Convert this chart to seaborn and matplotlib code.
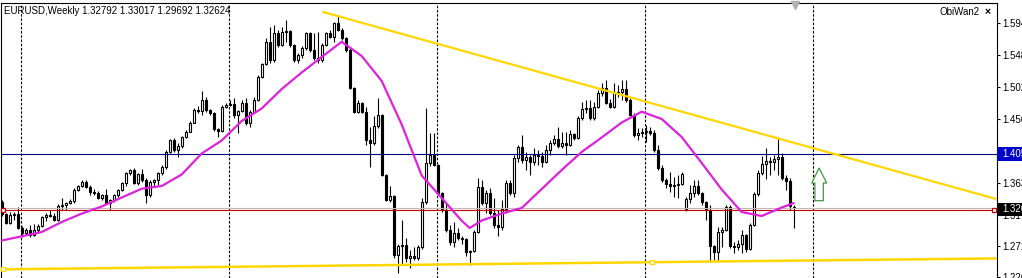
import numpy as np
import pandas as pd
import matplotlib
matplotlib.use("Agg")
import matplotlib.pyplot as plt
import seaborn as sns
from matplotlib.patches import Polygon, Rectangle

sns.set_style("white")
plt.rcParams["font.family"] = ["Liberation Sans", "DejaVu Sans"]

# ---------------- data (EURUSD weekly) ----------------
opens = [
    1.3351, 1.3177, 1.3046, 1.3162, 1.3177, 1.2974, 1.2902, 1.2945, 1.2873, 1.2945,
    1.3003, 1.3133, 1.3162, 1.3148, 1.3090, 1.3293, 1.3307, 1.3336, 1.3365, 1.3525,
    1.3583, 1.3641, 1.3568, 1.3496, 1.3481, 1.3409, 1.3452, 1.3336, 1.3380, 1.3452,
    1.3525, 1.3626, 1.3771, 1.3815, 1.3626, 1.3757, 1.3670, 1.3452, 1.3641, 1.3670,
    1.3771, 1.3858, 1.4076, 1.4249, 1.4105, 1.4163, 1.4293, 1.4365, 1.4496, 1.4684,
    1.4670, 1.4829, 1.4684, 1.4641, 1.4409, 1.4380, 1.4727, 1.4756, 1.4771, 1.4612,
    1.4670, 1.4785, 1.4496, 1.4655, 1.4829, 1.5162, 1.5351, 1.5669, 1.5409, 1.5800,
    1.5626, 1.5814, 1.5829, 1.5626, 1.5409, 1.5481, 1.5583, 1.5800, 1.5554, 1.5438,
    1.5409, 1.5626, 1.5800, 1.5742, 1.5945, 1.5843, 1.5727, 1.5554, 1.5003, 1.4655,
    1.4785, 1.4655, 1.4249, 1.4206, 1.4452, 1.4612, 1.3742, 1.3380, 1.3438, 1.2583,
    1.2713, 1.2728, 1.2540, 1.2569, 1.2540, 1.2699, 1.3351, 1.3917, 1.4032, 1.3887,
    1.3481, 1.3235, 1.2945, 1.2771, 1.2902, 1.2829, 1.2815, 1.2627, 1.2641, 1.2916,
    1.3568, 1.3336, 1.3481, 1.3191, 1.3017, 1.2988, 1.3249, 1.3626, 1.3481, 1.3989,
    1.4148, 1.3960, 1.4003, 1.3931, 1.4032, 1.4018, 1.3931, 1.4105, 1.4206, 1.4264,
    1.4163, 1.4206, 1.4177, 1.4336, 1.4278, 1.4568, 1.4698, 1.4713, 1.4568, 1.4727,
    1.4930, 1.5003, 1.4785, 1.4727, 1.4930, 1.4945, 1.4988, 1.4829, 1.4612, 1.4322,
    1.4351, 1.4365, 1.4380, 1.4351, 1.4105, 1.3844, 1.3670, 1.3612, 1.3583, 1.3598,
    1.3612, 1.3249, 1.3395, 1.3481, 1.3583, 1.3481, 1.3351, 1.3235, 1.2713, 1.2627,
    1.2916, 1.2945, 1.3278, 1.2713, 1.2699, 1.2742, 1.2873, 1.2670, 1.3017, 1.3467,
    1.3771, 1.3902, 1.3945, 1.3931, 1.3974, 1.4003, 1.3699, 1.3655, 1.32792,
]
highs = [
    1.3380, 1.3191, 1.3206, 1.3206, 1.3278, 1.3003, 1.2974, 1.3017, 1.3032, 1.3032,
    1.3148, 1.3191, 1.3235, 1.3191, 1.3322, 1.3409, 1.3351, 1.3395, 1.3554, 1.3598,
    1.3670, 1.3670, 1.3598, 1.3539, 1.3510, 1.3467, 1.3539, 1.3395, 1.3467, 1.3539,
    1.3641, 1.3786, 1.3829, 1.3844, 1.3771, 1.3829, 1.3699, 1.3670, 1.3684, 1.3786,
    1.3887, 1.4105, 1.4264, 1.4278, 1.4206, 1.4307, 1.4394, 1.4525, 1.4713, 1.4742,
    1.4959, 1.4872, 1.4698, 1.4655, 1.4423, 1.4756, 1.4785, 1.4829, 1.4858, 1.4684,
    1.4829, 1.4858, 1.4684, 1.4872, 1.5191, 1.5365, 1.5727, 1.5887, 1.5916, 1.5843,
    1.5887, 1.5988, 1.5843, 1.5640, 1.5510, 1.5612, 1.5814, 1.5814, 1.5800, 1.5814,
    1.5655, 1.5814, 1.5843, 1.5959, 1.6061, 1.5872, 1.5742, 1.5583, 1.5017, 1.4829,
    1.4800, 1.4727, 1.4438, 1.4597, 1.4858, 1.4626, 1.3757, 1.3583, 1.3453, 1.2742,
    1.3090, 1.2829, 1.2656, 1.2699, 1.2728, 1.3409, 1.4713, 1.4351, 1.4351, 1.3902,
    1.3496, 1.3336, 1.3017, 1.3061, 1.2974, 1.2858, 1.2829, 1.2656, 1.2945, 1.3699,
    1.3670, 1.3525, 1.3554, 1.3409, 1.3235, 1.3380, 1.3670, 1.3670, 1.4032, 1.4177,
    1.4322, 1.4076, 1.4032, 1.4134, 1.4105, 1.4076, 1.4177, 1.4249, 1.4322, 1.4438,
    1.4365, 1.4365, 1.4394, 1.4351, 1.4597, 1.4800, 1.4829, 1.4829, 1.4800, 1.4974,
    1.5075, 1.5119, 1.4843, 1.5075, 1.5046, 1.5119, 1.5119, 1.4858, 1.4641, 1.4423,
    1.4423, 1.4467, 1.4438, 1.4394, 1.4177, 1.3887, 1.3699, 1.3786, 1.3713, 1.3742,
    1.3786, 1.3424, 1.3598, 1.3670, 1.3670, 1.3496, 1.3365, 1.3307, 1.2728, 1.2988,
    1.2988, 1.3307, 1.3307, 1.2771, 1.2800, 1.2945, 1.2887, 1.3046, 1.3496, 1.3815,
    1.4018, 1.4134, 1.4003, 1.4032, 1.4278, 1.4061, 1.3742, 1.3699, 1.33017,
]
lows = [
    1.3148, 1.3032, 1.3032, 1.3090, 1.2959, 1.2844, 1.2873, 1.2844, 1.2858, 1.2902,
    1.2988, 1.3075, 1.3133, 1.3075, 1.3075, 1.3235, 1.3235, 1.3322, 1.3336, 1.3510,
    1.3568, 1.3554, 1.3453, 1.3453, 1.3395, 1.3380, 1.3322, 1.3235, 1.3351, 1.3424,
    1.3510, 1.3583, 1.3742, 1.3612, 1.3598, 1.3641, 1.3336, 1.3424, 1.3568, 1.3598,
    1.3742, 1.3829, 1.4061, 1.4076, 1.4003, 1.4134, 1.4278, 1.4365, 1.4496, 1.4641,
    1.4612, 1.4655, 1.4612, 1.4380, 1.4293, 1.4365, 1.4713, 1.4742, 1.4568, 1.4351,
    1.4655, 1.4467, 1.4438, 1.4641, 1.4814, 1.5148, 1.5337, 1.5366, 1.5380, 1.5597,
    1.5612, 1.5669, 1.5597, 1.5380, 1.5366, 1.5438, 1.5554, 1.5525, 1.5409, 1.5366,
    1.5380, 1.5612, 1.5727, 1.5669, 1.5829, 1.5698, 1.5525, 1.4989, 1.4641, 1.4641,
    1.4641, 1.4177, 1.3858, 1.4177, 1.4423, 1.3728, 1.3365, 1.3351, 1.2540, 1.2323,
    1.2453, 1.2482, 1.2395, 1.2511, 1.2511, 1.2670, 1.3322, 1.3873, 1.3873, 1.3453,
    1.3206, 1.2916, 1.2728, 1.2699, 1.2800, 1.2742, 1.2569, 1.2438, 1.2627, 1.2902,
    1.3307, 1.3191, 1.3162, 1.2974, 1.2858, 1.2945, 1.3191, 1.3453, 1.3424, 1.3931,
    1.3917, 1.3815, 1.3742, 1.3887, 1.3887, 1.3858, 1.3917, 1.4032, 1.4177, 1.4134,
    1.4134, 1.4032, 1.4163, 1.4249, 1.4264, 1.4539, 1.4641, 1.4539, 1.4539, 1.4713,
    1.4887, 1.4771, 1.4713, 1.4713, 1.4872, 1.4829, 1.4800, 1.4597, 1.4293, 1.4249,
    1.4293, 1.4220, 1.4322, 1.4076, 1.3815, 1.3641, 1.3554, 1.3496, 1.3424, 1.3409,
    1.3598, 1.3220, 1.3336, 1.3424, 1.3453, 1.3307, 1.3090, 1.2482, 1.2511, 1.2496,
    1.2699, 1.2930, 1.2684, 1.2612, 1.2656, 1.2612, 1.2627, 1.2656, 1.3003, 1.3438,
    1.3742, 1.3684, 1.3742, 1.3815, 1.3742, 1.3670, 1.3525, 1.3235, 1.29692,
]
closes = [
    1.3177, 1.3046, 1.3162, 1.3177, 1.2974, 1.2902, 1.2945, 1.2873, 1.2945, 1.3003,
    1.3133, 1.3162, 1.3148, 1.3090, 1.3293, 1.3307, 1.3336, 1.3365, 1.3525, 1.3583,
    1.3641, 1.3568, 1.3496, 1.3481, 1.3409, 1.3452, 1.3336, 1.3380, 1.3452, 1.3525,
    1.3626, 1.3771, 1.3815, 1.3626, 1.3757, 1.3670, 1.3452, 1.3641, 1.3670, 1.3771,
    1.3858, 1.4076, 1.4249, 1.4105, 1.4163, 1.4293, 1.4365, 1.4496, 1.4684, 1.4670,
    1.4829, 1.4684, 1.4641, 1.4409, 1.4380, 1.4727, 1.4756, 1.4771, 1.4612, 1.4670,
    1.4785, 1.4496, 1.4655, 1.4829, 1.5162, 1.5351, 1.5669, 1.5409, 1.5800, 1.5626,
    1.5814, 1.5829, 1.5626, 1.5409, 1.5481, 1.5583, 1.5800, 1.5554, 1.5438, 1.5409,
    1.5626, 1.5800, 1.5742, 1.5945, 1.5843, 1.5727, 1.5554, 1.5003, 1.4655, 1.4785,
    1.4655, 1.4249, 1.4206, 1.4452, 1.4612, 1.3742, 1.3380, 1.3438, 1.2583, 1.2713,
    1.2728, 1.2540, 1.2569, 1.2540, 1.2699, 1.3351, 1.3917, 1.4032, 1.3887, 1.3481,
    1.3235, 1.2945, 1.2771, 1.2902, 1.2829, 1.2815, 1.2627, 1.2641, 1.2916, 1.3568,
    1.3336, 1.3481, 1.3191, 1.3017, 1.2988, 1.3249, 1.3626, 1.3481, 1.3989, 1.4148,
    1.3960, 1.4003, 1.3931, 1.4032, 1.4018, 1.3931, 1.4105, 1.4206, 1.4264, 1.4163,
    1.4206, 1.4177, 1.4336, 1.4278, 1.4568, 1.4698, 1.4713, 1.4568, 1.4727, 1.4930,
    1.5003, 1.4785, 1.4727, 1.4930, 1.4945, 1.4988, 1.4829, 1.4612, 1.4322, 1.4351,
    1.4365, 1.4380, 1.4351, 1.4105, 1.3844, 1.3670, 1.3612, 1.3583, 1.3598, 1.3612,
    1.3757, 1.3395, 1.3481, 1.3583, 1.3481, 1.3351, 1.3235, 1.2713, 1.2627, 1.2916,
    1.2945, 1.3278, 1.2713, 1.2699, 1.2742, 1.2873, 1.2670, 1.3017, 1.3467, 1.3771,
    1.3902, 1.3945, 1.3931, 1.3974, 1.4003, 1.3699, 1.3655, 1.3293, 1.32624,
]

# magenta moving average
ma_bars = [0, 5, 10, 15, 20, 25, 30, 35, 40, 45, 50, 55, 60, 65, 70, 75, 80, 85, 90, 95,
           100, 105, 110, 115, 117, 120, 125, 130, 135, 140, 145, 150, 155, 160, 165, 170,
           175, 180, 185, 190, 195, 198]
ma_values = [1.2793, 1.2854, 1.2916, 1.3061, 1.3183, 1.3286, 1.3416, 1.3544, 1.3583, 1.3750,
             1.4054, 1.4242, 1.4525, 1.4706, 1.4988, 1.5228, 1.5452, 1.5673, 1.5467, 1.5105,
             1.4474, 1.3735, 1.3409, 1.3080, 1.2974, 1.3083, 1.3184, 1.3264, 1.3539, 1.3815,
             1.4076, 1.4286, 1.4503, 1.4660, 1.4554, 1.4293, 1.3917, 1.3532, 1.3206, 1.3148,
             1.3271, 1.3336]

# drawn objects
resistance_bars = [80.1, 248.7]
resistance_prices = [1.6108, 1.3394]
support_anchor_bars = [0.33, 162.6]
support_anchor_prices = [1.2376, 1.2479]
blue_level = 1.4040
red_level = 1.3230
bid_price = 1.32624
separator_bars = [4.9, 56.9, 108.9, 160.9, 202.9]

tick_prices = [1.594, 1.548, 1.502, 1.456, 1.409, 1.363, 1.317, 1.271, 1.226]
tick_labels = ["1.594", "1.548", "1.502", "1.456", "1.409", "1.363", "1.317", "1.271", "1.226"]
title_text = "EURUSD,Weekly 1.32792 1.33017 1.29692 1.32624"

# ---------------- figure ----------------
W, H = 1022, 278
fig = plt.figure(figsize=(W / 100, H / 100), dpi=100, facecolor="white")
ax = fig.add_axes([0.5 / W, 0.0, 996.0 / W, 1 - 2.5 / H])
ax.set_facecolor("white")

df = pd.DataFrame({"o": opens, "h": highs, "l": lows, "c": closes})
df["bar"] = np.arange(len(df))
bull = df["c"] >= df["o"]

ax.vlines(df["bar"], df["l"], df["h"], color="black", lw=0.8, zorder=3)
ax.bar(df["bar"], (df["c"] - df["o"]).abs(), bottom=np.minimum(df["o"], df["c"]),
       width=0.5, color=np.where(bull, "white", "black"), edgecolor="black",
       linewidth=0.8, zorder=4)

# period separators
for b in separator_bars:
    ax.axvline(b, color="black", lw=0.8, ls=(0, (2.3, 1.5)), zorder=2)

# horizontal lines
ax.axhline(bid_price, color="#C8B4B4", lw=0.8, zorder=5)
ax.axhline(red_level, color="#C00000", lw=0.8, zorder=6)
ax.axhline(blue_level, color="#000080", lw=0.8, zorder=6)

# moving average
sns.lineplot(x=ma_bars, y=ma_values, ax=ax, color="#DD22DD", lw=1.6, zorder=7)

# trend lines
ax.plot(resistance_bars, resistance_prices, color="#FFD700", lw=1.6, zorder=7,
        solid_capstyle="butt")
slope = (support_anchor_prices[1] - support_anchor_prices[0]) / (support_anchor_bars[1] - support_anchor_bars[0])
sx = np.array([-0.3, 248.7])
sy = support_anchor_prices[0] + slope * (sx - support_anchor_bars[0])
ax.plot(sx, sy, color="#FFD700", lw=1.8, zorder=7)
ax.plot(support_anchor_bars, support_anchor_prices, ls="none", marker="s", ms=3.5,
        mfc="white", mec="#FFD700", mew=0.9, zorder=8, clip_on=False)
ax.plot([0.33, 248.1], [red_level, red_level], ls="none", marker="s", ms=3.5,
        mfc="white", mec="#C00000", mew=0.9, zorder=8, clip_on=False)

# green up arrow object
arrow_pts = [(204.35, 1.3844), (206.25, 1.3626), (205.4, 1.3626), (205.4, 1.3370),
             (203.3, 1.3370), (203.3, 1.3626), (202.5, 1.3626)]
ax.add_patch(Polygon(arrow_pts, closed=True, facecolor="white", edgecolor="#3C9A3C",
                     lw=0.9, zorder=8))

# chart shift marker
ax.plot([198.3], [0.991], transform=ax.get_xaxis_transform(), marker="v", ms=5.5,
        color="#B0B0B0", ls="none", clip_on=False, zorder=9)

ax.set_xlim(-0.3, 248.7)
ax.set_ylim(1.2250, 1.6242)
ax.set_xticks([])
ax.yaxis.tick_right()
ax.set_yticks(tick_prices)
ax.set_yticklabels(tick_labels)
ax.tick_params(axis="y", direction="out", length=2.5, width=0.8, pad=1.8,
               labelsize=7, colors="black")
for side in ["left", "top", "right"]:
    ax.spines[side].set_visible(True)
    ax.spines[side].set_color("black")
    ax.spines[side].set_linewidth(0.8)
ax.spines["bottom"].set_visible(False)
ax.set_xlabel("")
ax.set_ylabel("")

# price labels on the axis
fig.add_artist(Rectangle((997 / W, (H - 161) / H), 25 / W, 14 / H,
                         transform=fig.transFigure, facecolor="#0000CC",
                         edgecolor="none", zorder=5))
fig.text(1002.5 / W, (H - 154.3) / H, "1.405", color="white", fontsize=7,
         va="center", ha="left", zorder=6)
fig.add_artist(Rectangle((997 / W, (H - 215.5) / H), 25 / W, 12.5 / H,
                         transform=fig.transFigure, facecolor="black",
                         edgecolor="none", zorder=5))
fig.text(1002.5 / W, (H - 209.3) / H, "1.326", color="white", fontsize=7,
         va="center", ha="left", zorder=6)

# texts
fig.text(4 / W, (H - 11) / H, title_text, fontsize=7, va="center", ha="left", color="black")
fig.text(940 / W, (H - 12) / H, "ObiWan2", fontsize=7, va="center", ha="left", color="black")
fig.text(985 / W, (H - 12) / H, "×", fontsize=7.5, fontweight="bold", va="center",
         ha="left", color="black")

fig.savefig("out.png", dpi=100, facecolor="white")
